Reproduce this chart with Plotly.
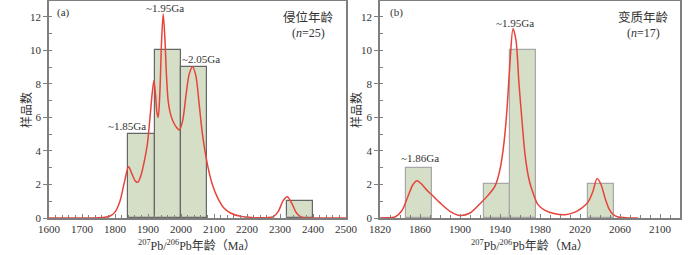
import plotly.graph_objects as go

# ---------------- data ----------------
# Panel (a): emplacement ages
a_bin_left = [1840, 1920, 2000, 2320]
a_counts = [5, 10, 9, 1]
a_bin_width = 80
a_curve_x = [1600, 1700, 1750, 1770, 1785, 1800, 1815, 1828, 1841, 1852, 1862, 1869, 1878, 1888,
             1898, 1907, 1913, 1918, 1923, 1927, 1931, 1936, 1941, 1946, 1951, 1956, 1961, 1967,
             1975, 1985, 1995, 2005, 2015, 2025, 2035, 2045, 2055, 2065, 2080, 2095, 2110, 2130,
             2150, 2180, 2220, 2260, 2280, 2295, 2310, 2322, 2335, 2350, 2365, 2400, 2500]
a_curve_y = [0, 0, 0.02, 0.05, 0.12, 0.35, 1.0, 2.1, 3.06, 2.6, 2.2, 2.13, 2.5, 3.3,
             4.4, 6.2, 7.5, 8.2, 7.3, 6.3, 6.0, 7.5, 10.5, 12.18, 10.8, 8.5, 7.0, 6.3,
             5.8, 5.45, 5.25, 5.8, 7.3, 8.6, 9.03, 8.5, 6.8, 5.0, 3.2, 2.0, 1.25, 0.6,
             0.3, 0.1, 0.02, 0.02, 0.08, 0.4, 1.05, 1.27, 0.9, 0.3, 0.05, 0, 0]

# Panel (b): metamorphic ages
b_bin_left = [1846, 1924, 1950, 2028]
b_counts = [3, 2, 10, 2]
b_bin_width = 26
b_curve_x = [1815, 1825, 1835, 1842, 1848, 1853, 1857, 1862, 1867, 1872, 1880, 1890, 1900, 1910,
             1920, 1928, 1935, 1940, 1944, 1947, 1950, 1953, 1956, 1959, 1962, 1965, 1969, 1973,
             1978, 1985, 1995, 2005, 2015, 2022, 2028, 2033, 2037, 2041, 2045, 2049, 2053, 2058,
             2065, 2078]
b_curve_y = [0, 0.01, 0.06, 0.45, 1.3, 2.0, 2.23, 2.0, 1.65, 1.37, 0.9, 0.4, 0.15, 0.3,
             0.85, 1.35, 1.9, 2.9, 4.5, 6.5, 9.3, 11.3, 10.6, 8.0, 5.8, 3.8, 2.3, 1.5,
             0.8, 0.45, 0.25, 0.2, 0.35, 0.6, 0.95, 1.6, 2.35, 2.0, 1.2, 0.55, 0.22, 0.06,
             0.02, 0]

x_ticks_a = list(range(1600, 2501, 100))
x_ticks_b = list(range(1820, 2101, 40))
y_ticks = [0, 2, 4, 6, 8, 10, 12]

# ---------------- styling ----------------
FONT = "Liberation Serif, Noto Sans CJK SC, serif"
CJK = "Noto Sans CJK SC, serif"
TXT = "#333333"
AX = "#7f7f7f"
RED = "#e8433a"
FILL = "#d5dfc7"

fig = go.Figure()

fig.add_trace(go.Bar(x=a_bin_left, y=a_counts, width=[a_bin_width] * len(a_counts), offset=0,
                     marker=dict(color=FILL, line=dict(color="#666666", width=1.2)),
                     xaxis="x", yaxis="y", showlegend=False))
fig.add_trace(go.Scatter(x=a_curve_x, y=a_curve_y, mode="lines", line=dict(color=RED, width=1.5, shape="spline", smoothing=0.8),
                         xaxis="x", yaxis="y", showlegend=False))
fig.add_trace(go.Bar(x=b_bin_left, y=b_counts, width=[b_bin_width] * len(b_counts), offset=0,
                     marker=dict(color=FILL, line=dict(color="#a8a8a8", width=1.2)),
                     xaxis="x2", yaxis="y2", showlegend=False))
fig.add_trace(go.Scatter(x=b_curve_x, y=b_curve_y, mode="lines", line=dict(color=RED, width=1.5, shape="spline", smoothing=0.8),
                         xaxis="x2", yaxis="y2", showlegend=False))

axis_common = dict(showgrid=False, zeroline=False, showline=True, linecolor=AX, linewidth=1.5,
                   mirror=True, ticklen=4, tickcolor=AX, tickwidth=1,
                   automargin=False,
                   tickfont=dict(family=FONT, size=11, color=TXT))

xtitle = "<sup>207</sup>Pb/<sup>206</sup>Pb年龄（Ma）"

fig.update_layout(
    width=700, height=255,
    margin=dict(l=0, r=0, t=1, b=37, autoexpand=False),
    paper_bgcolor="white", plot_bgcolor="white",
    bargap=0,
    xaxis=dict(domain=[49 / 700, 346 / 700], range=[1600, 2500], tickvals=x_ticks_a, ticks="inside",
               minor=dict(dtick=20, ticks="inside", ticklen=3, tickcolor=AX), anchor="y",
               **axis_common),
    yaxis=dict(domain=[0, 1], range=[0, 12.95], tickvals=y_ticks, ticks="outside",
               minor=dict(dtick=1, ticks="inside", ticklen=3, tickcolor=AX), anchor="x",
               **axis_common),
    xaxis2=dict(domain=[380 / 700, 680 / 700], range=[1820, 2120], tickvals=x_ticks_b, ticks="inside",
                minor=dict(dtick=10, ticks="inside", ticklen=3, tickcolor=AX), anchor="y2",
                **axis_common),
    yaxis2=dict(domain=[0, 1], range=[0, 12.95], tickvals=y_ticks, ticks="outside",
                minor=dict(dtick=1, ticks="inside", ticklen=3, tickcolor=AX), anchor="x2",
                **axis_common),
)

# convert pixel y (from top of 255 image) into paper coords: plot spans y=1..218
def ann_px(text, x, y, size=11, family=FONT, angle=0):
    py = (218 - y) / 217.0
    fig.add_annotation(text=text, x=x / 700, y=py,
                       xref="paper", yref="paper", showarrow=False, textangle=angle,
                       font=dict(family=family, size=size, color=TXT),
                       xanchor="center", yanchor="middle")

ann_px("(a)", 63, 12)
ann_px("~1.95Ga", 165, 8)
ann_px("~2.05Ga", 201, 59)
ann_px("~1.85Ga", 127, 126)
ann_px("侵位年龄", 308, 16, size=12.5, family=CJK)
ann_px("(<i>n</i>=25)", 308, 33, size=12)

ann_px("(b)", 396, 12)
ann_px("~1.95Ga", 515, 23)
ann_px("~1.86Ga", 420, 158)
ann_px("变质年龄", 643, 16, size=12.5, family=CJK)
ann_px("(<i>n</i>=17)", 643, 33, size=12)

ann_px("样品数", 26, 110, size=12, family=CJK, angle=-90)
ann_px("样品数", 356, 110, size=12, family=CJK, angle=-90)

ann_px(xtitle, 197, 246, size=12)
ann_px(xtitle, 530, 246, size=12)

fig.write_html("out.html", config={"displayModeBar": False},
               post_script="document.body.style.margin='0';document.body.style.padding='0';document.body.style.overflow='hidden';")
